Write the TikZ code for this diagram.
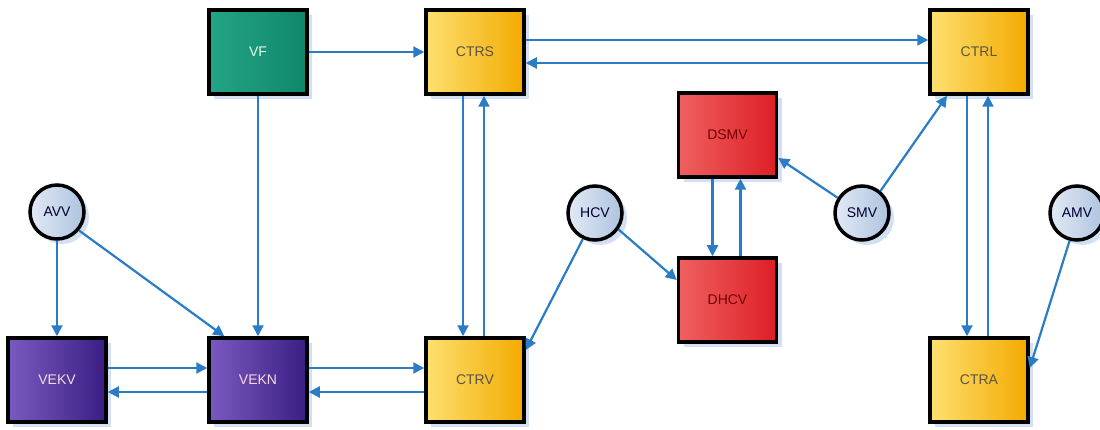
\documentclass[tikz,border=0pt]{standalone}
\usepackage{fontspec}
\setmainfont{Liberation Sans}
\usetikzlibrary{arrows.meta,shadows}
\definecolor{arrblue}{HTML}{2B7CC7}
\definecolor{shadblue}{HTML}{C9D9EE}
\definecolor{tealA}{HTML}{22A585}
\definecolor{tealB}{HTML}{10876A}
\definecolor{yelA}{HTML}{FDE070}
\definecolor{yelB}{HTML}{F4AA00}
\definecolor{redA}{HTML}{F06060}
\definecolor{redB}{HTML}{DD1F25}
\definecolor{purA}{HTML}{7A5AC0}
\definecolor{purB}{HTML}{3A1E85}
\definecolor{circA}{HTML}{E2EAF5}
\definecolor{circB}{HTML}{AEC3DF}
\tikzset{
  boxbase/.style={rectangle, draw=black, line width=3.5pt, minimum width=98pt, minimum height=84pt, inner sep=0pt,
    font=\fontsize{14}{14}\selectfont,
    drop shadow={shadow xshift=5pt, shadow yshift=-5pt, fill=shadblue, opacity=0.8}},
  tealbox/.style={boxbase, left color=tealA, right color=tealB, text=white!90!green},
  yelbox/.style={boxbase, left color=yelA, right color=yelB, text=black!75!yellow},
  redbox/.style={boxbase, left color=redA, right color=redB, text=black!55!red},
  purbox/.style={boxbase, left color=purA, right color=purB, text=white!85!purple},
  circnode/.style={circle, draw=black, line width=3.5pt, minimum size=54pt, inner sep=0pt,
    left color=circA, right color=circB, text=black!80!blue,
    font=\fontsize{14}{14}\selectfont,
    drop shadow={shadow xshift=5pt, shadow yshift=-5pt, fill=shadblue, opacity=0.8}},
  arr/.style={draw=arrblue, line width=2.2pt, -{Triangle[length=11pt,width=11pt]}}
}
\begin{document}
\begin{tikzpicture}[x=1pt,y=-1pt]
\useasboundingbox[fill=white] (0,0) rectangle (1100,430);
% boxes
\node[tealbox] (VF) at (258,52) {VF};
\node[yelbox] (CTRS) at (475,52) {CTRS};
\node[yelbox] (CTRL) at (979,52) {CTRL};
\node[redbox] (DSMV) at (727.5,135) {DSMV};
\node[redbox] (DHCV) at (727.5,300) {DHCV};
\node[purbox] (VEKV) at (57,380) {VEKV};
\node[purbox] (VEKN) at (258,380) {VEKN};
\node[yelbox] (CTRV) at (475,380) {CTRV};
\node[yelbox] (CTRA) at (979,380) {CTRA};
% circles
\node[circnode] (AVV) at (57,212) {AVV};
\node[circnode] (HCV) at (595,213) {HCV};
\node[circnode] (SMV) at (862,213) {SMV};
\node[circnode] (AMV) at (1077,213) {AMV};
% connectors
\draw[arr] (VF.east) -- (CTRS.west);
\draw[arr] ([yshift=12pt]CTRS.east) -- ([yshift=12pt]CTRL.west);
\draw[arr] ([yshift=-11pt]CTRL.west) -- ([yshift=-11pt]CTRS.east);
\draw[arr] (VF.south) -- (VEKN.north);
\draw[arr] ([xshift=-12pt]CTRS.south) -- ([xshift=-12pt]CTRV.north);
\draw[arr] ([xshift=9pt]CTRV.north) -- ([xshift=9pt]CTRS.south);
\draw[arr] (AVV.south) -- (VEKV.north);
\draw[arr] (AVV.-40) -- ([xshift=17pt]VEKN.north west);
\draw[arr] ([yshift=12pt]VEKV.east) -- ([yshift=12pt]VEKN.west);
\draw[arr] ([yshift=-12pt]VEKN.west) -- ([yshift=-12pt]VEKV.east);
\draw[arr] ([yshift=12pt]VEKN.east) -- ([yshift=12pt]CTRV.west);
\draw[arr] ([yshift=-12pt]CTRV.west) -- ([yshift=-12pt]VEKN.east);
\draw[arr] (HCV.-115) -- ([yshift=30pt]CTRV.east);
\draw[arr] (HCV.-35) -- ([yshift=20pt]DHCV.west);
\draw[arr] ([xshift=-15pt]DSMV.south) -- ([xshift=-15pt]DHCV.north);
\draw[arr] ([xshift=13pt]DHCV.north) -- ([xshift=13pt]DSMV.south);
\draw[arr] (SMV.148) -- ([yshift=-23pt]DSMV.east);
\draw[arr] (SMV.50) -- ([xshift=-32pt]CTRL.south);
\draw[arr] ([xshift=-12pt]CTRL.south) -- ([xshift=-12pt]CTRA.north);
\draw[arr] ([xshift=9pt]CTRA.north) -- ([xshift=9pt]CTRL.south);
\draw[arr] (AMV.-105) -- ([yshift=12pt]CTRA.east);
\end{tikzpicture}
\end{document}
